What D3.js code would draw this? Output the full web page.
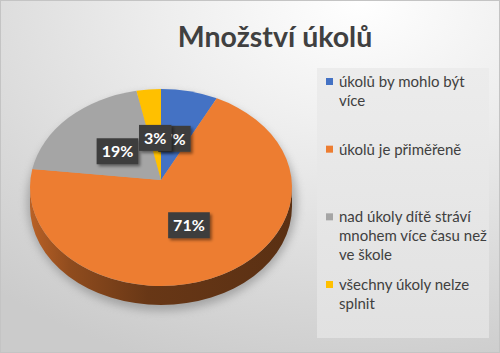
<!DOCTYPE html>
<html>
<head>
<meta charset="utf-8">
<script src="https://cdn.jsdelivr.net/npm/d3@7"></script>
<style>
  body { margin: 0; background: #fff; }
  svg { display: block; font-family: Lato, "Open Sans", sans-serif; }
</style>
</head>
<body>
<div id="chart"></div>
<script>

// chart data
var title = "Množství úkolů";
var categories = ["úkolů by mohlo být více", "úkolů je přiměřeně", "nad úkoly dítě stráví mnohem více času než ve škole", "všechny úkoly nelze splnit"];
var values = [7, 71, 19, 3];
var colors = ["#4472c4", "#ed7d31", "#a5a5a5", "#ffc000"];

var width = 500, height = 353;

// pie ellipse (3d look)
var cx = 161, cy = 187.5, rx = 131, ry = 98.5, depth = 19;
var apex = [161, 180];

var svg = d3.select("#chart")
    .append("svg")
    .attr("width", width)
    .attr("height", height);

var defs = svg.append("defs");

// background gradient
var bg = defs.append("radialGradient")
    .attr("id", "bg")
    .attr("cx", "72%").attr("cy", "0%").attr("r", "110%");
bg.append("stop").attr("offset", "0%").attr("stop-color", "#ffffff");
bg.append("stop").attr("offset", "35%").attr("stop-color", "#eeeeee");
bg.append("stop").attr("offset", "100%").attr("stop-color", "#cbcbcb");

var legendBg = defs.append("linearGradient")
    .attr("id", "legendBg")
    .attr("x1", 0).attr("y1", 0).attr("x2", 0).attr("y2", 1);
legendBg.append("stop").attr("offset", "0%").attr("stop-color", "#ececec");
legendBg.append("stop").attr("offset", "100%").attr("stop-color", "#e1e1e1");

var blur = defs.append("filter").attr("id", "blur")
    .attr("x", "-20%").attr("y", "-20%").attr("width", "140%").attr("height", "140%");
blur.append("feGaussianBlur").attr("stdDeviation", 4);

var boxShadow = defs.append("filter").attr("id", "boxShadow")
    .attr("x", "-30%").attr("y", "-30%").attr("width", "170%").attr("height", "170%");
boxShadow.append("feDropShadow")
    .attr("dx", 2).attr("dy", 2).attr("stdDeviation", 1.5)
    .attr("flood-color", "#000").attr("flood-opacity", 0.45);

svg.append("rect")
    .attr("x", 0.5).attr("y", 0.5)
    .attr("width", width - 1).attr("height", height - 1)
    .attr("fill", "url(#bg)")
    .attr("stroke", "#c4c4c4");

// title
svg.append("text")
    .attr("x", 275)
    .attr("y", 47)
    .attr("text-anchor", "middle")
    .attr("font-size", "28.5px")
    .attr("font-weight", "bold")
    .attr("fill", "#404040")
    .text(title);

// pie
var pie = d3.pie().sort(null).value(function (d) { return d; });
var arcs = pie(values);

function pt(a, dy) {
    return [cx + rx * Math.sin(a), cy - ry * Math.cos(a) + (dy || 0)];
}

// shadow under pie
svg.append("ellipse")
    .attr("cx", cx + 1)
    .attr("cy", cy + depth / 2 + 5)
    .attr("rx", rx + 4)
    .attr("ry", ry + depth / 2 + 1)
    .attr("fill", "#858585")
    .attr("opacity", 0.6)
    .attr("filter", "url(#blur)");

// side gradients, one per colour
colors.forEach(function (c, i) {
    var g = defs.append("linearGradient")
        .attr("id", "side" + i)
        .attr("gradientUnits", "userSpaceOnUse")
        .attr("x1", cx - rx).attr("y1", 0)
        .attr("x2", cx + rx).attr("y2", 0);
    [[0, 0.7], [0.15, 1.4], [0.45, 2.3], [1, 2.7]].forEach(function (s) {
        g.append("stop").attr("offset", s[0]).attr("stop-color", d3.color(c).darker(s[1]));
    });
});

// front wall of the pie
svg.append("g").selectAll("path")
    .data(arcs)
    .join("path")
    .attr("d", function (d) {
        var s = Math.max(d.startAngle, Math.PI / 2);
        var e = Math.min(d.endAngle, Math.PI * 3 / 2);
        if (s >= e) return null;
        var p1 = pt(s), p2 = pt(e), p3 = pt(e, depth), p4 = pt(s, depth);
        return "M" + p1 + "A" + rx + "," + ry + " 0 0 1 " + p2 +
            "L" + p3 + "A" + rx + "," + ry + " 0 0 0 " + p4 + "Z";
    })
    .attr("fill", function (d, i) { return "url(#side" + i + ")"; });

// top face
svg.append("g").selectAll("path")
    .data(arcs)
    .join("path")
    .attr("d", function (d) {
        var p1 = pt(d.startAngle), p2 = pt(d.endAngle);
        var large = (d.endAngle - d.startAngle) > Math.PI ? 1 : 0;
        return "M" + apex + "L" + p1 + "A" + rx + "," + ry + " 0 " + large + " 1 " + p2 + "Z";
    })
    .attr("fill", function (d, i) { return colors[i]; });

// data labels (the 3% box sits over the 7% one, as in the original)
var total = d3.sum(values);
var labelOrigin = [cx, 184];
var labels = svg.append("g").selectAll("g")
    .data(arcs)
    .join("g")
    .attr("transform", function (d) {
        var m = (d.startAngle + d.endAngle) / 2;
        var x = labelOrigin[0] + rx * 0.47 * Math.sin(m);
        var y = labelOrigin[1] - ry * 0.47 * Math.cos(m);
        return "translate(" + x + "," + y + ")";
    });

labels.append("rect").attr("fill", "#3d3d3d").attr("filter", "url(#boxShadow)");
labels.append("text")
    .attr("text-anchor", "middle")
    .attr("dy", "0.36em")
    .attr("font-size", "16px")
    .attr("font-weight", "bold")
    .attr("fill", "#ffffff")
    .text(function (d) { return Math.round(d.value / total * 100) + "%"; });

labels.each(function () {
    var g = d3.select(this);
    var w = g.select("text").node().getComputedTextLength() + 10;
    g.select("rect")
        .attr("x", -w / 2).attr("y", -13)
        .attr("width", w).attr("height", 26);
});

// legend
svg.append("rect")
    .attr("x", 317).attr("y", 68)
    .attr("width", 172).attr("height", 270)
    .attr("fill", "url(#legendBg)");

var legendY = d3.scalePoint().domain(categories).range([87, 290]);
var legendWrap = 148;

var legend = svg.append("g").selectAll("g")
    .data(categories)
    .join("g")
    .attr("transform", function (d) { return "translate(326," + legendY(d) + ")"; });

legend.append("rect")
    .attr("x", 0).attr("y", -9)
    .attr("width", 7).attr("height", 7)
    .attr("fill", function (d, i) { return colors[i]; });

legend.append("text")
    .attr("x", 13)
    .attr("font-size", "15px")
    .attr("fill", "#404040")
    .each(function (d) {
        var text = d3.select(this);
        var words = d.split(" ");
        var line = [];
        var lineNo = 0;
        var tspan = text.append("tspan").attr("x", 13).attr("y", 0);
        words.forEach(function (w) {
            line.push(w);
            tspan.text(line.join(" "));
            if (tspan.node().getComputedTextLength() > legendWrap && line.length > 1) {
                line.pop();
                tspan.text(line.join(" "));
                line = [w];
                lineNo++;
                tspan = text.append("tspan").attr("x", 13).attr("y", lineNo * 19).text(w);
            }
        });
    });

</script>
</body>
</html>
